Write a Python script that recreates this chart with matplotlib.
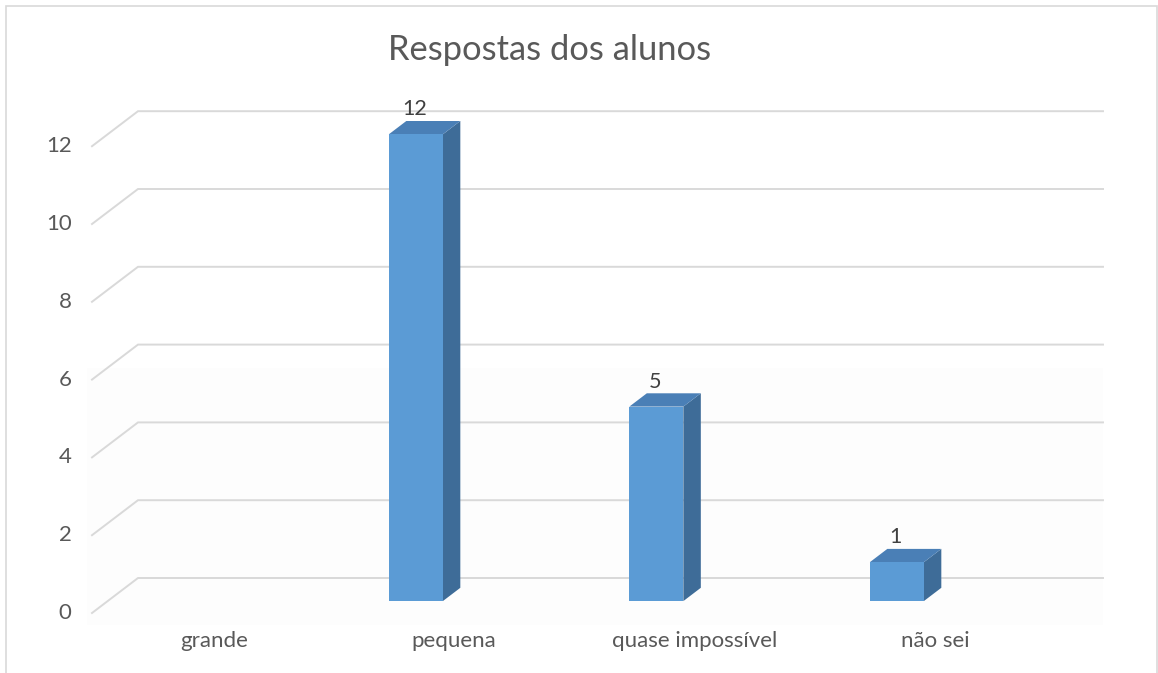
import matplotlib
matplotlib.use("Agg")
import matplotlib.pyplot as plt
from matplotlib.patches import Polygon, Rectangle

# ── Data ─────────────────────────────────────────────────────────────────────
categories = ["grande", "pequena", "quase impossível", "não sei"]
values     = [0, 12, 5, 1]
yticks     = [0, 2, 4, 6, 8, 10, 12]
title      = "Respostas dos alunos"

# ── Style ────────────────────────────────────────────────────────────────────
FONT       = ["Lato", "DejaVu Sans"]
TXT        = "#595959"
GRID       = "#D9D9D9"
C_FRONT    = "#5B9BD5"
C_TOP      = "#4A7FB6"
C_SIDE     = "#3E6C98"
FS_TICK    = 16
FS_TITLE   = 24.8

W_PX, H_PX = 1158, 673
# pixel geometry of the 3-D box (front plane)
PX_CAT  = 240.5   # px per category
PX_VAL  = 38.9    # px per unit
X0_PX   = 159.7   # category 0 centre, front plane
Y0_PX   = 613.0   # value 0, front plane
BOX     = (80, 1110, 90, 630)   # left, right, top, bottom in px

DX = 46 / PX_CAT          # full depth offset, data units
DY = 35 / PX_VAL
BAR_HW   = 27 / PX_CAT    # bar half width
D_FRONT  = 0.34           # depth fraction of bar front face
D_BACK   = 0.72           # depth fraction of bar back face

fig = plt.figure(figsize=(W_PX / 100, H_PX / 100), dpi=100)
fig.patch.set_facecolor("white")

l, r, t, b = BOX
ax = fig.add_axes([l / W_PX, 1 - b / H_PX, (r - l) / W_PX, (b - t) / H_PX])
ax.set_xlim((l - X0_PX) / PX_CAT, (r - X0_PX) / PX_CAT)
ax.set_ylim((Y0_PX - b) / PX_VAL, (Y0_PX - t) / PX_VAL)
ax.axis("off")

x_left  = (92 - X0_PX) / PX_CAT
x_right = (1103 - X0_PX) / PX_CAT

# faint back wall shading
ax.add_patch(Rectangle((x_left - 0.02, -0.3), x_right - x_left + 0.02, 6.6,
                       facecolor="#FDFDFD", edgecolor="none", zorder=0))

# ── Gridlines (perspective) ─────────────────────────────────────────────────
for v in yticks:
    ax.plot([x_left, x_left + DX, x_right], [v, v + DY, v + DY],
            color=GRID, lw=1.4, solid_joinstyle="miter", zorder=1)
    ax.text(x_left - 0.085, v, str(v), ha="right", va="center",
            fontsize=FS_TICK, color=TXT, family=FONT)

# ── Bars ────────────────────────────────────────────────────────────────────
for i, v in enumerate(values):
    cx = i + D_FRONT * DX
    by = D_FRONT * DY
    x1, x2 = cx - BAR_HW, cx + BAR_HW
    ddx, ddy = (D_BACK - D_FRONT) * DX, (D_BACK - D_FRONT) * DY
    if v > 0:
        front = [(x1, by), (x2, by), (x2, by + v), (x1, by + v)]
        top = [(x1, by + v), (x2, by + v), (x2 + ddx, by + v + ddy), (x1 + ddx, by + v + ddy)]
        side = [(x2, by), (x2 + ddx, by + ddy), (x2 + ddx, by + v + ddy), (x2, by + v)]
        ax.add_patch(Polygon(side, closed=True, facecolor=C_SIDE, edgecolor="none", zorder=3))
        ax.add_patch(Polygon(top, closed=True, facecolor=C_TOP, edgecolor="none", zorder=3))
        ax.add_patch(Polygon(front, closed=True, facecolor=C_FRONT, edgecolor="none", zorder=4))
        ax.annotate(str(v), (cx - 1.5 / PX_CAT, by + v + ddy), xytext=(0, 4),
                    textcoords="offset points", ha="center", va="baseline",
                    fontsize=FS_TICK - 0.5, color="#404040", family=FONT, zorder=5)
    # category label
    ax.text(i + 54 / PX_CAT, (Y0_PX - 641) / PX_VAL, categories[i],
            ha="center", va="center", fontsize=FS_TICK, color=TXT, family=FONT)

# ── Title ───────────────────────────────────────────────────────────────────
fig.text(550 / W_PX, 1 - 50 / H_PX, title, ha="center", va="center",
         fontsize=FS_TITLE, color=TXT, family=FONT)

# ── Chart frame ─────────────────────────────────────────────────────────────
fig.patches.append(Rectangle((6 / W_PX, -0.05), (1157 - 6) / W_PX, 1.05 - 6 / H_PX,
                             transform=fig.transFigure, fill=False,
                             edgecolor=GRID, lw=1.2))

fig.savefig("out.png", dpi=100)
